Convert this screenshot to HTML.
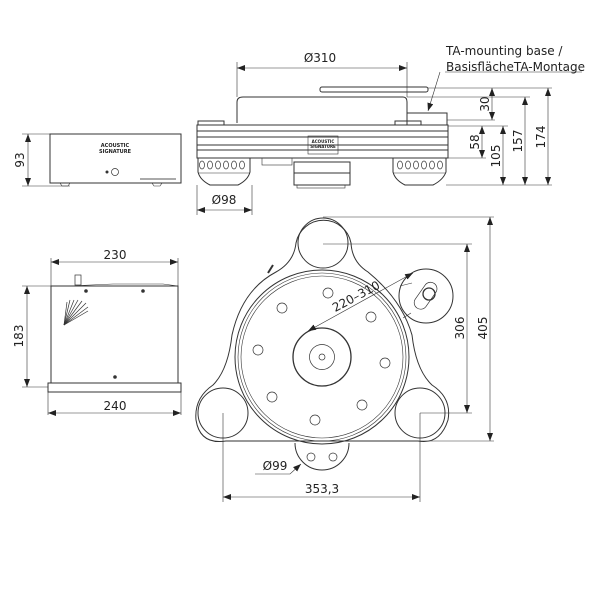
<!DOCTYPE html>
<html><head><meta charset="utf-8"><style>
html,body{margin:0;padding:0;background:#fff;}
svg{display:block;}
text{font-family:"DejaVu Sans","Liberation Sans",sans-serif;fill:#222;}
</style></head><body>
<svg width="600" height="600" viewBox="0 0 600 600" xmlns="http://www.w3.org/2000/svg">
<defs>
<marker id="a" markerWidth="8" markerHeight="6" refX="8" refY="3" orient="auto-start-reverse" markerUnits="userSpaceOnUse"><path d="M0,0 L8,3 L0,6z" fill="#222"/></marker>
</defs>
<g stroke="#333" stroke-width="1" fill="none">
<!-- control box front -->
<rect x="50" y="134" width="131" height="49"/>
<line x1="22" y1="134" x2="50" y2="134" stroke-width="0.6"/>
<line x1="22" y1="186" x2="70" y2="186" stroke-width="0.6"/>
<line x1="28" y1="134" x2="28" y2="186" stroke-width="0.6" marker-start="url(#a)" marker-end="url(#a)"/>
<path d="M60,183 l10,0 l-2,3 l-6,0z M152,183 l10,0 l-2,3 l-6,0z" stroke-width="0.6"/>
<circle cx="115" cy="172" r="3.5" stroke-width="0.7"/>
<circle cx="107" cy="172" r="1" fill="#333"/>
<line x1="140" y1="179" x2="176" y2="179" stroke-width="1.2" stroke="#777"/>
<!-- control box top -->
<rect x="51" y="286" width="127" height="97"/>
<rect x="48" y="383" width="133" height="9"/>
<path d="M68,286 l45,-2 l50,0 l15,2" stroke-width="0.6"/>
<rect x="75" y="275" width="6" height="10" stroke-width="0.7"/>
<circle cx="86" cy="291" r="1.3" fill="#333"/>
<circle cx="143" cy="291" r="1.3" fill="#333"/>
<circle cx="115" cy="377" r="1.3" fill="#333"/>
<g stroke-width="0.7">
<line x1="64" y1="325" x2="86" y2="303"/><line x1="64" y1="325" x2="82" y2="301"/><line x1="64" y1="325" x2="78" y2="300"/>
<line x1="64" y1="325" x2="74" y2="300"/><line x1="64" y1="325" x2="70" y2="300"/><line x1="64" y1="325" x2="88" y2="307"/>
<line x1="64" y1="325" x2="88" y2="311"/><line x1="64" y1="325" x2="67" y2="302"/></g>
<line x1="51" y1="258" x2="51" y2="286" stroke-width="0.6"/>
<line x1="178" y1="258" x2="178" y2="286" stroke-width="0.6"/>
<line x1="51" y1="262" x2="178" y2="262" stroke-width="0.6" marker-start="url(#a)" marker-end="url(#a)"/>
<line x1="48" y1="392" x2="48" y2="415" stroke-width="0.6"/>
<line x1="181" y1="392" x2="181" y2="415" stroke-width="0.6"/>
<line x1="48" y1="413" x2="181" y2="413" stroke-width="0.6" marker-start="url(#a)" marker-end="url(#a)"/>
<line x1="22" y1="286" x2="51" y2="286" stroke-width="0.6"/>
<line x1="22" y1="387" x2="48" y2="387" stroke-width="0.6"/>
<line x1="27" y1="286" x2="27" y2="387" stroke-width="0.6" marker-start="url(#a)" marker-end="url(#a)"/>

<!-- side view turntable -->
<path d="M237,123 L237,102 Q237,97 243,97 L403,97 Q407,97 407,102 L407,123"/>
<rect x="320" y="87" width="108" height="5" rx="2"/>
<rect x="407" y="113" width="40" height="12"/>
<rect x="198" y="121" width="26" height="4"/>
<rect x="395" y="121" width="26" height="4"/>
<rect x="197" y="125" width="251" height="33"/>
<line x1="197" y1="131" x2="448" y2="131"/><line x1="197" y1="137" x2="448" y2="137"/>
<line x1="197" y1="145" x2="448" y2="145"/><line x1="197" y1="150" x2="448" y2="150"/>
<rect x="308" y="136" width="30" height="18" stroke-width="0.6"/>
<path d="M198,158 L198,172 Q200,180 210,185 L238,185 Q248,180 250,172 L250,158"/>
<path d="M393,158 L393,172 Q395,180 405,185 L433,185 Q443,180 446,172 L446,158"/>
<g stroke-width="0.7">
<ellipse cx="202" cy="165" rx="2.5" ry="4"/><ellipse cx="210" cy="165" rx="2.5" ry="4"/><ellipse cx="218" cy="165" rx="2.5" ry="4"/><ellipse cx="226" cy="165" rx="2.5" ry="4"/><ellipse cx="234" cy="165" rx="2.5" ry="4"/><ellipse cx="242" cy="165" rx="2.5" ry="4"/>
<ellipse cx="400" cy="165" rx="2.5" ry="4"/><ellipse cx="408" cy="165" rx="2.5" ry="4"/><ellipse cx="416" cy="165" rx="2.5" ry="4"/><ellipse cx="424" cy="165" rx="2.5" ry="4"/><ellipse cx="432" cy="165" rx="2.5" ry="4"/><ellipse cx="440" cy="165" rx="2.5" ry="4"/>
</g>
<line x1="198" y1="173" x2="250" y2="173" stroke-width="0.6"/>
<line x1="393" y1="173" x2="446" y2="173" stroke-width="0.6"/>
<rect x="262" y="158" width="30" height="7" stroke-width="0.6"/>
<rect x="294" y="162" width="56" height="11"/>
<rect x="294" y="173" width="56" height="12"/>
<rect x="297" y="185" width="48" height="3" stroke-width="0.6"/>
<!-- side dims -->
<line x1="237" y1="62" x2="237" y2="97" stroke-width="0.6"/>
<line x1="407" y1="62" x2="407" y2="97" stroke-width="0.6"/>
<line x1="237" y1="68" x2="407" y2="68" stroke-width="0.6" marker-start="url(#a)" marker-end="url(#a)"/>
<line x1="197" y1="185" x2="197" y2="215" stroke-width="0.6"/>
<line x1="252" y1="185" x2="252" y2="215" stroke-width="0.6"/>
<line x1="197" y1="210" x2="252" y2="210" stroke-width="0.6" marker-start="url(#a)" marker-end="url(#a)"/>
<line x1="445" y1="72" x2="582" y2="72" stroke-width="0.6"/>
<line x1="440" y1="72" x2="428" y2="111" stroke-width="0.6" marker-end="url(#a)"/>
<line x1="428" y1="88" x2="552" y2="88" stroke-width="0.6"/>
<line x1="407" y1="97" x2="530" y2="97" stroke-width="0.6"/>
<line x1="447" y1="120" x2="495" y2="120" stroke-width="0.6"/>
<line x1="448" y1="126" x2="508" y2="126" stroke-width="0.6"/>
<line x1="446" y1="185" x2="552" y2="185" stroke-width="0.6"/>
<line x1="492" y1="88" x2="492" y2="120" stroke-width="0.6" marker-start="url(#a)" marker-end="url(#a)"/>
<line x1="482" y1="126" x2="482" y2="158" stroke-width="0.6" marker-start="url(#a)" marker-end="url(#a)"/>
<line x1="448" y1="158" x2="486" y2="158" stroke-width="0.6"/>
<line x1="503" y1="126" x2="503" y2="185" stroke-width="0.6" marker-start="url(#a)" marker-end="url(#a)"/>
<line x1="525" y1="97" x2="525" y2="185" stroke-width="0.6" marker-start="url(#a)" marker-end="url(#a)"/>
<line x1="548" y1="88" x2="548" y2="185" stroke-width="0.6" marker-start="url(#a)" marker-end="url(#a)"/>

<!-- plan view -->
<path d="M296,243 A28,28 0 0 1 351,243 Q352,262 368,272 Q402,300 412,335 Q416,370 432,385 Q452,398 448,420 Q440,445 418,441 L344,441 L300,441 L226,441 Q200,445 196,420 Q194,398 213,385 Q228,370 232,335 Q242,290 276,272 Q294,262 296,243z"/>
<circle cx="323" cy="243" r="25"/>
<circle cx="223" cy="413" r="25"/>
<circle cx="420" cy="413" r="25"/>
<circle cx="322" cy="357" r="87"/>
<circle cx="322" cy="357" r="84" stroke-width="0.6"/>
<circle cx="322" cy="357" r="81" stroke-width="0.6"/>
<circle cx="322" cy="357" r="29" stroke-width="1.3"/>
<circle cx="322" cy="357" r="12.5" stroke-width="0.7"/>
<circle cx="322" cy="357" r="3" stroke-width="0.7"/>
<g stroke-width="0.7">
<circle cx="328" cy="293" r="5"/><circle cx="282" cy="308" r="5"/><circle cx="371" cy="317" r="5"/><circle cx="258" cy="350" r="5"/>
<circle cx="385" cy="363" r="5"/><circle cx="272" cy="397" r="5"/><circle cx="362" cy="405" r="5"/><circle cx="315" cy="420" r="5"/>
</g>
<path d="M295,443 A27,27 0 0 0 349,443" />
<circle cx="311" cy="457" r="4" stroke-width="0.7"/><circle cx="333" cy="457" r="4" stroke-width="0.7"/>
<path d="M268,273 l5,-8" stroke-width="2"/>
<circle cx="426" cy="296" r="27"/>
<rect x="411" y="289" width="30" height="13" rx="6.5" transform="rotate(-55 426 296)" stroke-width="0.7"/>
<circle cx="429" cy="294" r="6" stroke-width="1.3"/>
<line x1="400" y1="286" x2="412" y2="283" stroke-width="0.6"/>
<line x1="403" y1="318" x2="411" y2="313" stroke-width="0.6"/>
<!-- plan dims -->
<line x1="308" y1="331" x2="413" y2="273" stroke-width="0.6" marker-start="url(#a)" marker-end="url(#a)"/>
<line x1="323" y1="217" x2="494" y2="217" stroke-width="0.6"/>
<line x1="323" y1="244" x2="472" y2="244" stroke-width="0.6"/>
<line x1="420" y1="413" x2="472" y2="413" stroke-width="0.6"/>
<line x1="226" y1="441" x2="494" y2="441" stroke-width="0.6"/>
<line x1="467" y1="244" x2="467" y2="413" stroke-width="0.6" marker-start="url(#a)" marker-end="url(#a)"/>
<line x1="490" y1="217" x2="490" y2="441" stroke-width="0.6" marker-start="url(#a)" marker-end="url(#a)"/>
<line x1="223" y1="413" x2="223" y2="502" stroke-width="0.6"/>
<line x1="420" y1="413" x2="420" y2="502" stroke-width="0.6"/>
<line x1="223" y1="497" x2="420" y2="497" stroke-width="0.6" marker-start="url(#a)" marker-end="url(#a)"/>
<path d="M255,474 L290,474 L301,464" stroke-width="0.6" marker-end="url(#a)"/>
</g>
<g font-size="12">
<text x="320" y="62" text-anchor="middle">Ø310</text>
<text x="224" y="204" text-anchor="middle">Ø98</text>
<text x="446" y="55">TA-mounting base /</text>
<text x="446" y="71">BasisflächeTA-Montage</text>
<text transform="translate(489,104) rotate(-90)" text-anchor="middle">30</text>
<text transform="translate(479,142) rotate(-90)" text-anchor="middle">58</text>
<text transform="translate(500,156) rotate(-90)" text-anchor="middle">105</text>
<text transform="translate(522,141) rotate(-90)" text-anchor="middle">157</text>
<text transform="translate(545,137) rotate(-90)" text-anchor="middle">174</text>
<text transform="translate(24,160) rotate(-90)" text-anchor="middle">93</text>
<text x="115" y="259" text-anchor="middle">230</text>
<text x="115" y="410" text-anchor="middle">240</text>
<text transform="translate(23,336) rotate(-90)" text-anchor="middle">183</text>
<text transform="translate(358,300) rotate(-28)" text-anchor="middle">220–310</text>
<text transform="translate(464,328) rotate(-90)" text-anchor="middle">306</text>
<text transform="translate(487,328) rotate(-90)" text-anchor="middle">405</text>
<text x="322" y="493" text-anchor="middle">353,3</text>
<text x="275" y="470" text-anchor="middle">Ø99</text>
</g>
<g font-size="5" font-weight="bold">
<text x="115" y="147" text-anchor="middle">ACOUSTIC</text>
<text x="115" y="153" text-anchor="middle">SIGNATURE</text>
<text x="323" y="143" text-anchor="middle" font-size="4">ACOUSTIC</text>
<text x="323" y="148" text-anchor="middle" font-size="4">SIGNATURE</text>
</g>
</svg>
</body></html>
